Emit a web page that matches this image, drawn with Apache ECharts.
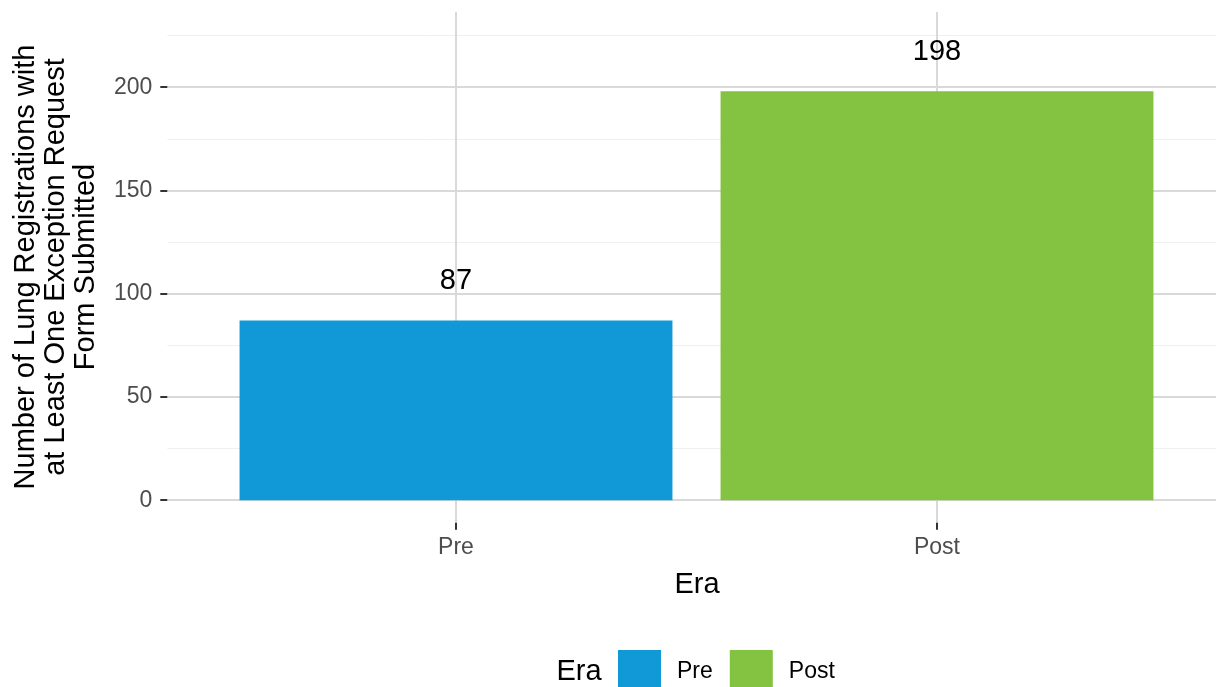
<!DOCTYPE html>
<html>
<head>
<meta charset="utf-8">
<script src="https://cdn.jsdelivr.net/npm/echarts@6/dist/echarts.min.js"></script>
<style>
html,body{margin:0;padding:0;background:#fff;}
#chart{width:1216px;height:687px;}
</style>
</head>
<body>
<div id="chart"></div>
<script>
const categories = ['Pre', 'Post'];
const counts = [87, 198];
const barColors = ['#1199d7', '#83c341'];
const yTicks = [0, 50, 100, 150, 200];
const yTitle = 'Number of Lung Registrations with\nat Least One Exception Request\nForm Submitted';
const xTitle = 'Era';
const legendTitle = 'Era';

const FONT = '"Liberation Sans", Arial, sans-serif';
const yMin = -10.9, yMax = 236.4;

const chart = echarts.init(document.getElementById('chart'), null, {renderer: 'canvas'});

const series = categories.map((c, i) => ({
  name: c,
  type: 'bar',
  xAxisIndex: 1,
  yAxisIndex: 1,
  barGap: '-100%',
  barCategoryGap: '10%',
  itemStyle: {color: barColors[i]},
  data: categories.map((_, j) => (j === i ? counts[j] : null)),
  label: {
    show: true,
    position: 'top',
    distance: 25,
    color: '#000',
    fontSize: 29,
    fontFamily: FONT
  },
  emphasis: {disabled: true},
  z: 3
}));

chart.setOption({
  animation: false,
  backgroundColor: '#fff',
  grid: [
    {left: 167.3, right: -10, top: 12, bottom: 164.3, containLabel: false},
    {left: 215.5, width: 962, top: 12, bottom: 164.3, containLabel: false}
  ],
  xAxis: [
    {gridIndex: 0, type: 'value', show: false, min: 0, max: 1},
    {
      gridIndex: 1,
      type: 'category',
      data: categories,
      axisLine: {show: false, onZero: false},
      axisTick: {show: true, alignWithLabel: true, length: 7, lineStyle: {color: '#333', width: 2}},
      axisLabel: {color: '#4d4d4d', fontSize: 23, fontFamily: FONT, margin: 13},
      splitLine: {show: true, alignWithLabel: true, lineStyle: {color: '#d9d9d9', width: 2}}
    }
  ],
  yAxis: [
    {
      gridIndex: 0,
      type: 'value',
      min: yMin,
      max: yMax,
      axisLine: {show: false},
      axisTick: {show: true, length: 7, customValues: yTicks, lineStyle: {color: '#333', width: 2}},
      axisLabel: {color: '#4d4d4d', fontSize: 23, fontFamily: FONT, margin: 15, customValues: yTicks},
      splitLine: {show: true, lineStyle: {color: '#d9d9d9', width: 2}},
      minorTick: {show: false, splitNumber: 2},
      minorSplitLine: {show: true, lineStyle: {color: '#efefef', width: 1}}
    },
    {gridIndex: 1, type: 'value', min: yMin, max: yMax, show: false, splitLine: {show: false}}
  ],
  legend: {
    left: 618,
    top: 650,
    padding: 0,
    itemWidth: 43,
    itemHeight: 43,
    itemGap: 17,
    icon: 'rect',
    selectedMode: false,
    data: categories,
    textStyle: {color: '#000', fontSize: 23, fontFamily: FONT, padding: [0, 0, 0, 11]}
  },
  graphic: [
    {
      type: 'text',
      x: 56, y: 267,
      rotation: Math.PI / 2,
      style: {
        text: yTitle, font: '29px ' + FONT, fill: '#000',
        textAlign: 'center', textVerticalAlign: 'middle', lineHeight: 30
      }
    },
    {
      type: 'text',
      x: 697, y: 585,
      style: {text: xTitle, font: '29px ' + FONT, fill: '#000', textAlign: 'center', textVerticalAlign: 'middle'}
    },
    {
      type: 'text',
      x: 579, y: 672,
      style: {text: legendTitle, font: '29px ' + FONT, fill: '#000', textAlign: 'center', textVerticalAlign: 'middle'}
    }
  ],
  series: series
});
</script>
</body>
</html>
